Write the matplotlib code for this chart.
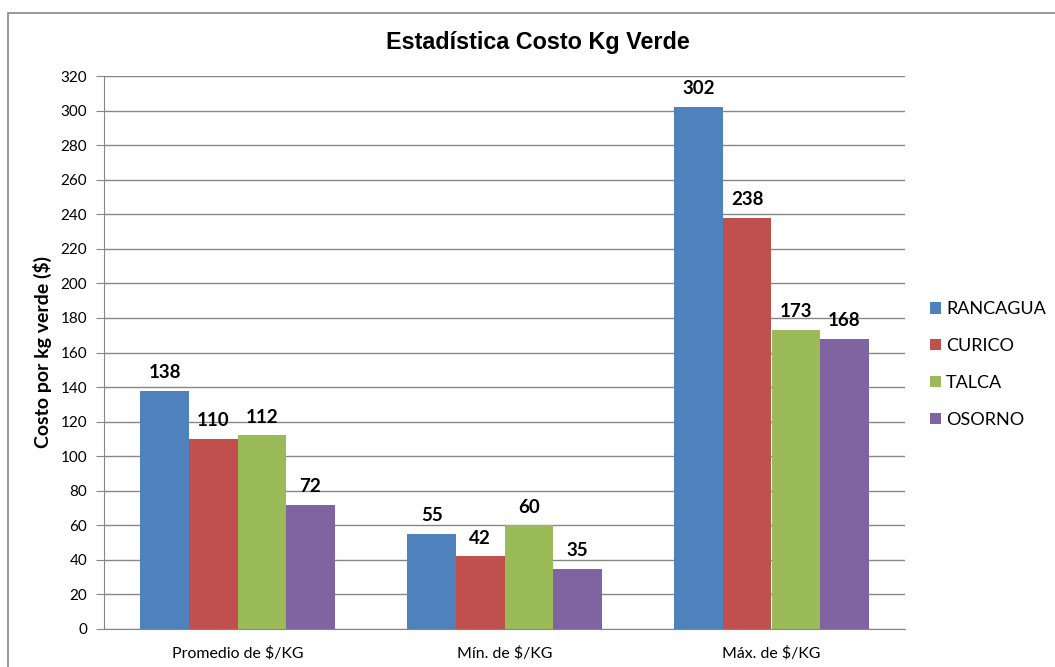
import numpy as np
import matplotlib
matplotlib.use("Agg")
import matplotlib.pyplot as plt
from matplotlib.patches import Rectangle

categories = ["Promedio de $/KG", "Mín. de $/KG", "Máx. de $/KG"]
series = ["RANCAGUA", "CURICO", "TALCA", "OSORNO"]
rancagua = [138, 55, 302]
curico = [110, 42, 238]
talca = [112, 60, 173]
osorno = [72, 35, 168]
colors = ["#4F81BD", "#C0504D", "#9BBB59", "#8064A2"]

plt.rcParams["font.family"] = ["Lato", "DejaVu Sans"]

fig = plt.figure(figsize=(10.55, 6.67), dpi=100)
# outer chart frame (Excel style)
fig.patches.append(Rectangle((8 / 1055, -0.1), 1.2, 1 - 13 / 667 + 0.1,
                             transform=fig.transFigure, fill=False,
                             edgecolor="#868686", linewidth=1.2))

ax = fig.add_axes([104 / 1055, 1 - 629 / 667, (905 - 104) / 1055, (629 - 76) / 667])

x = np.arange(len(categories))
w = 0.182
values = [rancagua, curico, talca, osorno]
for i, (name, vals, c) in enumerate(zip(series, values, colors)):
    pos = x + (i - 1.5) * w
    ax.bar(pos, vals, width=w, color=c, label=name, zorder=3)
    for p, v in zip(pos, vals):
        ax.annotate(str(v), (p, v), xytext=(0, 7), textcoords="offset points",
                    ha="center", va="bottom", fontsize=13.5, fontweight="bold")

ax.set_xlim(-0.5, 2.5)
ax.set_ylim(0, 320)
ax.set_yticks(np.arange(0, 321, 20))
ax.set_xticks(x)
ax.set_xticklabels(categories, fontsize=11.4)
ax.tick_params(axis="y", labelsize=11, length=6, color="#868686", pad=6)
ax.tick_params(axis="x", length=0, pad=12)
ax.grid(axis="y", color="#868686", linewidth=1, zorder=0)
for s in ["top", "right"]:
    ax.spines[s].set_visible(False)
for s in ["left", "bottom"]:
    ax.spines[s].set_color("#868686")
ax.set_ylabel("Costo por kg verde ($)", fontsize=14, fontweight="bold", labelpad=6)

fig.text(538 / 1055, 1 - 42 / 667, "Estadística Costo Kg Verde", ha="center",
         va="center", fontsize=16.8, fontweight="bold", family="Liberation Sans")

leg = ax.legend(loc="center left", bbox_to_anchor=(930 / 1055, 1 - 364.5 / 667),
                bbox_transform=fig.transFigure, frameon=False, borderpad=0,
                borderaxespad=0, fontsize=13, handlelength=0.6, handleheight=0.6,
                handletextpad=0.3, labelspacing=1.15)

fig.savefig("out.png", dpi=100)
